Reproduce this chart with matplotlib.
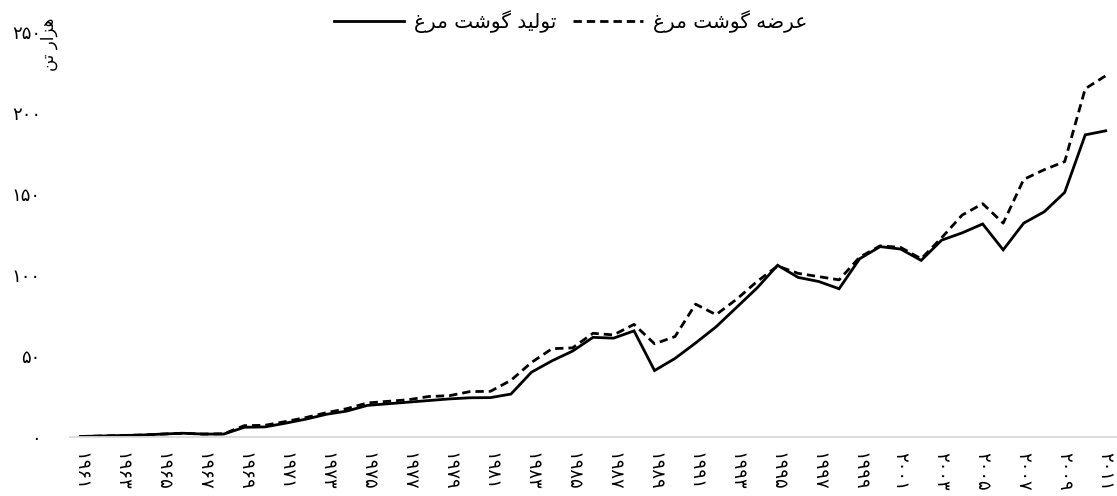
import matplotlib
matplotlib.use("Agg")
import matplotlib.pyplot as plt

# سال‌ها و مقادیر (هزار تن)
years = list(range(1961, 2012))
produccion = [0.3, 0.6, 0.9, 1.2, 1.8, 2.3, 1.8, 1.8, 6.0, 6.2,
              8.5, 11, 14, 16, 19.5, 20.5, 21.5, 22.5, 23.5, 24.2,
              24.3, 26.5, 40, 47, 53, 61.5, 61, 65.5, 41, 48.5,
              58, 68, 80, 92, 106, 98.5, 96, 91.5, 110, 117.5,
              116, 109, 121.5, 126, 131.5, 115.5, 132, 139, 151, 186.5,
              189]
oferta = [0.3, 0.6, 0.9, 1.2, 1.8, 2.3, 1.8, 2.0, 7.0, 7.2,
          9.5, 12, 15, 17.5, 21, 22, 23, 25, 25.5, 28,
          28.2, 35, 46, 54.5, 55, 64, 63, 69.5, 57.5, 62,
          82, 75.5, 85, 96, 105.5, 101, 99, 97, 111, 118,
          117, 110, 123, 137, 144, 132, 159, 165, 170, 215,
          223]
y_ticks = [0, 50, 100, 150, 200, 250]

label_prod = "تولید گوشت مرغ"
label_oferta = "عرضه گوشت مرغ"
titulo_y = "هزار تن"

# formas de presentación: (aislada, final, inicial, media)
FORMAS = {
    "ا": ("\uFE8D", "\uFE8E", None, None),
    "ت": ("\uFE95", "\uFE96", "\uFE97", "\uFE98"),
    "د": ("\uFEA9", "\uFEAA", None, None),
    "ر": ("\uFEAD", "\uFEAE", None, None),
    "ز": ("\uFEAF", "\uFEB0", None, None),
    "ش": ("\uFEB5", "\uFEB6", "\uFEB7", "\uFEB8"),
    "ض": ("\uFEBD", "\uFEBE", "\uFEBF", "\uFEC0"),
    "ع": ("\uFEC9", "\uFECA", "\uFECB", "\uFECC"),
    "غ": ("\uFECD", "\uFECE", "\uFECF", "\uFED0"),
    "ل": ("\uFEDD", "\uFEDE", "\uFEDF", "\uFEE0"),
    "م": ("\uFEE1", "\uFEE2", "\uFEE3", "\uFEE4"),
    "ن": ("\uFEE5", "\uFEE6", "\uFEE7", "\uFEE8"),
    "ه": ("\uFEE9", "\uFEEA", "\uFEEB", "\uFEEC"),
    "و": ("\uFEED", "\uFEEE", None, None),
    "ی": ("\uFBFC", "\uFBFD", "\uFBFE", "\uFBFF"),
    "گ": ("\uFB92", "\uFB93", "\uFB94", "\uFB95"),
}


def fa(texto):
    """Da forma a las letras persas y las pone en orden visual."""
    out = []
    for i, c in enumerate(texto):
        if c not in FORMAS:
            out.append(c)
            continue
        prev = texto[i - 1] if i > 0 else ""
        nxt = texto[i + 1] if i + 1 < len(texto) else ""
        une_prev = prev in FORMAS and FORMAS[prev][2] is not None
        une_next = FORMAS[c][2] is not None and nxt in FORMAS
        iso, fin, ini, med = FORMAS[c]
        if une_prev and une_next:
            out.append(med)
        elif une_prev:
            out.append(fin)
        elif une_next:
            out.append(ini)
        else:
            out.append(iso)
    return "".join(out[::-1])


def num_fa(n):
    return str(n).translate(str.maketrans("0123456789", "۰۱۲۳۴۵۶۷۸۹"))


plt.rcParams["font.family"] = ["DejaVu Sans"]

fig = plt.figure(figsize=(11.17, 4.96), dpi=100)
ax = fig.add_axes([0.0627, 0.119, 0.9364, 0.8165])

x = list(range(len(years)))
l1, = ax.plot(x, produccion, color="black", lw=2.0, solid_joinstyle="miter")
l2, = ax.plot(x, oferta, color="black", lw=2.0, dashes=(3, 1.8))

ax.set_xlim(-0.5, len(years) - 0.5)
ax.set_ylim(0, 250)

ax.set_yticks(y_ticks)
ax.set_yticklabels([num_fa(v) for v in y_ticks], fontsize=13)
ax.set_xticks(x[::2])
ax.set_xticklabels([num_fa(y) for y in years[::2]], rotation=-90, fontsize=13)
ax.tick_params(axis="both", length=0)
ax.tick_params(axis="y", pad=21)
ax.tick_params(axis="x", pad=11)

for s in ["top", "right", "left"]:
    ax.spines[s].set_visible(False)
ax.spines["bottom"].set_color("#d9d9d9")
ax.spines["bottom"].set_linewidth(1.3)

fig.text(0.044, 0.91, fa(titulo_y), rotation=90, fontsize=12,
         ha="center", va="center")

fig.legend([l1, l2], [fa(label_prod), fa(label_oferta)], ncol=2,
           loc="center", bbox_to_anchor=(0.511, 0.956), frameon=False,
           fontsize=14.5, handlelength=3.5, columnspacing=0.8, handletextpad=0.5)

fig.savefig("out.png", dpi=100)
